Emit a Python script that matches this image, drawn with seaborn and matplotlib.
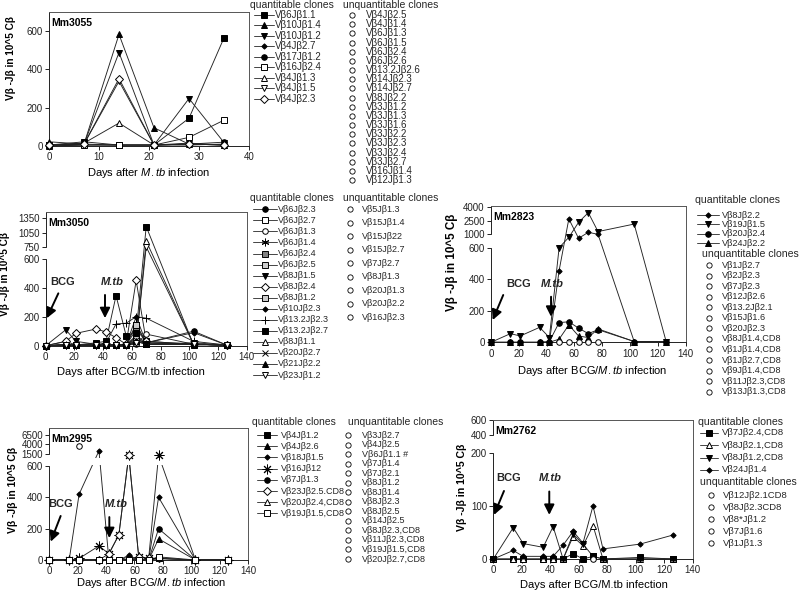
import numpy as np
import matplotlib
matplotlib.use("Agg")
import matplotlib.pyplot as plt
import seaborn as sns

sns.set_theme(style="white")
plt.rcParams["font.family"] = ["Liberation Sans", "DejaVu Sans"]
plt.rcParams["mathtext.fontset"] = "custom"
plt.rcParams["mathtext.rm"] = "Liberation Sans"
plt.rcParams["mathtext.it"] = "Liberation Sans:italic"
plt.rcParams["mathtext.bf"] = "Liberation Sans:bold"
plt.rcParams["axes.unicode_minus"] = False

# ---------------------------------------------------------------- data
# Mm3055
days_3055 = [0, 7, 14, 21, 28, 35]
names_3055 = ["Vβ6Jβ1.1", "Vβ10Jβ1.4", "Vβ10Jβ1.2", "Vβ4Jβ2.7", "Vβ17Jβ1.2",
              "Vβ16Jβ2.4", "Vβ4Jβ1.3", "Vβ4Jβ1.5", "Vβ4Jβ2.3"]
marks_3055 = ["sq", "tri", "trid", "dia", "circ", "sq_o", "tri_o", "trid_o", "dia_o"]
vals_3055 = [
    [5, 22, 5, 5, 145, 565],
    [22, 10, 583, 95, 10, 5],
    [5, 10, 488, 5, 248, 18],
    [5, 10, 5, 5, 5, 10],
    [0, 5, 5, 5, 10, 20],
    [0, 5, 5, 5, 45, 135],
    [5, 15, 120, 5, 15, 5],
    [5, 10, 338, 5, 10, 5],
    [5, 10, 352, 5, 10, 5],
]
unq_3055 = ["Vβ4Jβ2.5", "Vβ4Jβ1.4", "Vβ6Jβ1.3", "Vβ6Jβ1.5", "Vβ6Jβ2.4", "Vβ6Jβ2.6",
            "Vβ13.2Jβ2.6", "Vβ14Jβ2.3", "Vβ14Jβ2.7", "Vβ8Jβ2.2", "Vβ3Jβ1.2", "Vβ3Jβ1.3",
            "Vβ3Jβ1.6", "Vβ3Jβ2.2", "Vβ3Jβ2.3", "Vβ3Jβ2.4", "Vβ3Jβ2.7", "Vβ16Jβ1.4",
            "Vβ12Jβ1.3"]

# Mm3050
days_3050 = [0, 14, 21, 35, 42, 49, 56, 63, 70, 103, 126]
names_3050 = ["Vβ6Jβ2.3", "Vβ6Jβ2.7", "Vβ6Jβ1.3", "Vβ6Jβ1.4", "Vβ6Jβ2.4", "Vβ6Jβ2.5",
              "Vβ8Jβ1.5", "Vβ8Jβ2.4", "Vβ8Jβ1.2", "Vβ10Jβ2.3", "Vβ13.2Jβ2.3",
              "Vβ13.2Jβ2.7", "Vβ8Jβ1.1", "Vβ20Jβ2.7", "Vβ21Jβ2.2", "Vβ23Jβ1.2"]
marks_3050 = ["circ", "sq_o", "circ_o", "ast", "sq_h", "sq_g", "trid", "dia_o", "sq_g",
              "dia", "plus", "sq", "tri_o", "cross", "tri", "trid_o"]
vals_3050 = [
    [0, 30, 5, 5, 5, 5, 5, 70, 20, 100, 5],
    [0, 5, 5, 5, 5, 5, 5, 30, 10, 10, 5],
    [0, 5, 5, 5, 5, 5, 5, 10, 80, 10, 5],
    [0, 5, 5, 5, 5, 5, 5, 150, 20, 10, 5],
    [0, 5, 5, 5, 5, 5, 5, 110, 30, 10, 5],
    [0, 5, 5, 5, 5, 5, 5, 140, 20, 10, 5],
    [0, 110, 30, 10, 10, 5, 5, 50, 10, 20, 5],
    [0, 30, 85, 115, 95, 55, 10, 450, 30, 10, 5],
    [0, 5, 5, 5, 5, 5, 5, 60, 10, 10, 5],
    [0, 5, 5, 5, 5, 5, 5, 200, 20, 90, 5],
    [0, 5, 5, 5, 20, 150, 155, 200, 190, 30, 5],
    [0, 5, 5, 20, 30, 345, 70, 90, 1180, 5, 5],
    [0, 5, 5, 5, 5, 5, 5, 20, 880, 10, 5],
    [0, 5, 5, 5, 5, 5, 5, 40, 10, 10, 5],
    [0, 5, 5, 5, 5, 5, 5, 30, 10, 10, 5],
    [0, 5, 5, 5, 5, 5, 5, 20, 760, 10, 5],
]
unq_3050 = ["Vβ5Jβ1.3", "Vβ15Jβ1.4", "Vβ15Jβ22", "Vβ15Jβ2.7", "Vβ7Jβ2.7", "Vβ8Jβ1.3",
            "Vβ20Jβ1.3", "Vβ20Jβ2.2", "Vβ16Jβ2.3"]

# Mm2823
days_2823 = [0, 14, 21, 35, 42, 49, 56, 63, 70, 77, 103, 126]
names_2823 = ["Vβ8Jβ2.2", "Vβ19Jβ1.5", "Vβ20Jβ2.4", "Vβ24Jβ2.2"]
marks_2823 = ["dia", "trid", "circ", "tri"]
vals_2823 = [
    [0, 0, 0, 0, 0, 455, 2700, 880, 1220, 1000, 5, 5],
    [0, 55, 40, 95, 30, 600, 910, 2320, 3400, 1300, 2130, 5],
    [0, 0, 0, 0, 5, 125, 130, 90, 55, 80, 5, 5],
    [0, 0, 0, 0, 0, 20, 110, 40, 30, 85, 5, 0],
]
unq_days_2823 = [49, 56, 63, 70, 77]
unq_vals_2823 = [0, 0, 0, 0, 0]
unq_2823 = ["Vβ1Jβ2.7", "Vβ2Jβ2.3", "Vβ7Jβ2.3", "Vβ12Jβ2.6", "Vβ13.2Jβ2.1", "Vβ15Jβ1.6",
            "Vβ20Jβ2.3", "Vβ8Jβ1.4,CD8", "Vβ1Jβ1.4,CD8", "Vβ1Jβ2.7,CD8", "Vβ9Jβ1.4,CD8",
            "Vβ11Jβ2.3,CD8", "Vβ13Jβ1.3,CD8"]

# Mm2995
days_2995 = [0, 14, 21, 35, 42, 49, 56, 63, 70, 77, 103, 126]
names_2995 = ["Vβ4Jβ1.2", "Vβ4Jβ2.6", "Vβ18Jβ1.5", "Vβ16Jβ12", "Vβ7Jβ1.3",
              "Vβ23Jβ2.5.CD8", "Vβ20Jβ2.4,CD8", "Vβ19Jβ1.5,CD8"]
marks_2995 = ["sq", "tri", "dia", "star", "circ", "dia_o", "tri_o", "sq_o"]
vals_2995 = [
    [0, 0, 0, 0, 0, 0, 0, 0, 0, 10, 0, 0],
    [0, 0, 0, 0, 0, 0, 5, 0, 0, 135, 0, 0],
    [0, 0, 420, 2300, 0, 0, 30, 0, 0, 400, 0, 0],
    [0, 0, 10, 90, 40, 160, 1400, 20, 10, 1400, 0, 0],
    [0, 0, 0, 0, 0, 0, 20, 0, 0, 200, 0, 0],
    [0, 0, 0, 0, 40, 160, 1400, 20, 10, 10, 0, 0],
    [0, 0, 0, 0, 0, 0, 0, 0, 0, 10, 0, 0],
    [0, 0, 0, 0, 0, 0, 0, 0, 0, 20, 0, 0],
]
unq_days_2995 = [21]
unq_vals_2995 = [3600]
unq_2995 = ["Vβ3Jβ2.7", "Vβ4Jβ2.5", "Vβ6Jβ1.1 #", "Vβ7Jβ1.4", "Vβ7Jβ2.1", "Vβ8Jβ1.2",
            "Vβ8Jβ1.4", "Vβ8Jβ2.3", "Vβ8Jβ2.5", "Vβ14Jβ2.5", "Vβ8Jβ2.3,CD8",
            "Vβ11Jβ2.3,CD8", "Vβ19Jβ1.5,CD8", "Vβ20Jβ2.7,CD8"]

# Mm2762
days_2762 = [0, 14, 21, 35, 42, 49, 56, 63, 70, 77, 103, 126]
names_2762 = ["Vβ7Jβ2.4,CD8", "Vβ8Jβ2.1,CD8", "Vβ8Jβ1.2,CD8", "Vβ24Jβ1.4"]
marks_2762 = ["sq", "tri_o", "trid", "dia"]
vals_2762 = [
    [0, 0, 0, 0, 0, 0, 10, 0, 5, 0, 3, 0],
    [0, 0, 0, 0, 0, 0, 42, 25, 63, 0, 0, 0],
    [0, 59, 29, 22, 61, 0, 47, 28, 5, 0, 0, 0],
    [0, 16, 5, 5, 5, 26, 52, 30, 100, 19, 28, 45],
]
unq_days_2762 = [70]
unq_vals_2762 = [0]
unq_2762 = ["Vβ12Jβ2.1CD8", "Vβ8Jβ2.3CD8", "Vβ8*Jβ1.2", "Vβ7Jβ1.6", "Vβ1Jβ1.3"]

YLABEL = "Vβ -Jβ in 10^5 Cβ"

# ---------------------------------------------------------------- styles
STY = {
    "sq": ("s", "black", 3.8), "sq_o": ("s", "white", 3.8),
    "tri": ("^", "black", 4.4), "tri_o": ("^", "white", 4.4),
    "trid": ("v", "black", 4.4), "trid_o": ("v", "white", 4.4),
    "dia": ("D", "black", 2.7), "dia_o": ("D", "white", 3.7),
    "circ": ("o", "black", 4.0), "circ_o": ("o", "white", 4.0),
    "ast": ((6, 2, 0), "none", 5.5), "plus": ("+", "none", 6.0),
    "cross": ("x", "none", 4.5), "sq_h": ("s", "0.5", 4.2),
    "sq_g": ("s", "0.8", 4.2), "star": ((8, 2, 0), "none", 7.0),
}
INK = "#222222"
FW, FH = 800, 594

fig = plt.figure(figsize=(8.0, 5.94), dpi=100)
fig.patch.set_facecolor("white")


def pax(l, r, t, b):
    return fig.add_axes([l / FW, 1 - b / FH, (r - l) / FW, (b - t) / FH])


def make_scale(anch):
    v = np.array([a for a, _ in anch], float)
    p = np.array([b for _, b in anch], float)
    s0 = (p[1] - p[0]) / (v[1] - v[0])
    s1 = (p[-1] - p[-2]) / (v[-1] - v[-2])
    v2 = np.concatenate([[v[0] - 1e6], v, [v[-1] + 1e6]])
    p2 = np.concatenate([[p[0] - 1e6 * s0], p, [p[-1] + 1e6 * s1]])
    return (lambda y: np.interp(y, v2, p2), lambda q: np.interp(q, p2, v2))


def setup(ax, xlim, xticks, ytop, yticks, anch=None, gap=None):
    ax.set_xlim(*xlim)
    ax.set_xticks(xticks)
    if anch is not None:
        ax.set_yscale("function", functions=make_scale(anch))
    ax.set_ylim(0, ytop)
    ax.set_yticks(yticks)
    ax.set_yticklabels([str(t) for t in yticks])
    ax.minorticks_off()
    ax.tick_params(axis="both", which="major", direction="out", length=3, width=0.7,
                   labelsize=7, pad=1.5, colors=INK, left=True, bottom=True,
                   top=False, right=False)
    ax.grid(False)
    for s in ax.spines.values():
        s.set_linewidth(0.7)
        s.set_color("#555555")
    ax.spines["left"].set_color(INK)
    ax.spines["bottom"].set_color(INK)
    if gap is not None:
        ax.spines["left"].set_visible(False)
        tr = ax.get_yaxis_transform()
        ax.plot([0, 0], [0, gap[0]], transform=tr, color=INK, lw=0.7, clip_on=False)
        ax.plot([0, 0], [gap[1], ytop], transform=tr, color=INK, lw=0.7, clip_on=False)


def draw_series(ax, days, vals, marks):
    for v, st in zip(vals, marks):
        m, fc, ms = STY[st]
        sns.lineplot(x=days, y=v, ax=ax, color=INK, linewidth=0.65, errorbar=None,
                     estimator=None, sort=False, zorder=2, clip_on=False)
        sns.lineplot(x=days, y=v, ax=ax, color=INK, linestyle="none", marker=m,
                     markersize=ms, markerfacecolor=fc, markeredgecolor="black",
                     markeredgewidth=0.7, errorbar=None, estimator=None, sort=False,
                     zorder=4, clip_on=False)


def draw_unq(ax, days, vals):
    sns.lineplot(x=days, y=vals, ax=ax, color=INK, linestyle="none", marker="o",
                 markersize=4.0, markerfacecolor="white", markeredgecolor="black",
                 markeredgewidth=0.7, errorbar=None, estimator=None, sort=False,
                 zorder=4, clip_on=False)


def labels(ax, title, xl, xlc, ylc, yfs):
    ax.text(0.012, 0.955, title, transform=ax.transAxes, fontsize=7.5,
            fontweight="bold", va="top", ha="left", color="black")
    ax.set_xlabel(xl, fontsize=8, color="black")
    ax.xaxis.set_label_coords(*xlc)
    ax.xaxis.label.set_va("center")
    ax.set_ylabel(YLABEL, fontsize=yfs, fontweight="bold", color="black")
    ax.yaxis.set_label_coords(*ylc)
    ax.yaxis.label.set_va("center")


def arrows(ax, bcg_txt, bcg_tail, bcg_head, mtb_txt, mtb_tail, mtb_head):
    ax.text(*bcg_txt, "BCG", fontsize=8, fontweight="bold", ha="center", va="center")
    ax.text(*mtb_txt, "M.tb", fontsize=8, fontweight="bold", style="italic",
            ha="center", va="center")
    for tail, head in [(bcg_tail, bcg_head), (mtb_tail, mtb_head)]:
        ax.annotate("", xy=head, xytext=tail, annotation_clip=False,
                    arrowprops=dict(arrowstyle="-|>,head_length=0.5,head_width=0.25",
                                    lw=1.4, color="black", shrinkA=0, shrinkB=0))


# overlay for legends
ov = fig.add_axes([0, 0, 1, 1], zorder=-5)
ov.set_xlim(0, FW)
ov.set_ylim(FH, 0)
ov.axis("off")


def legend(qhdr, names, marks, qy0, qdy, qline, qtext, uhdr, unames, uy0, udy, ucx, utext,
           fs, hfs):
    ov.text(qhdr[0], qhdr[1], "quantitable clones", fontsize=hfs, va="center", ha="left")
    for i, (n, st) in enumerate(zip(names, marks)):
        y = qy0 + i * qdy
        m, fc, ms = STY[st]
        ov.plot([qline[0], qline[1]], [y, y], color="#444444", lw=0.7)
        ov.plot([(qline[0] + qline[1]) / 2], [y], marker=m, ms=ms, mfc=fc,
                mec="black", mew=0.7, ls="none")
        ov.text(qtext, y, n, fontsize=fs, va="center", ha="left")
    ov.text(uhdr[0], uhdr[1], "unquantitable clones", fontsize=hfs, va="center", ha="left")
    for i, n in enumerate(unames):
        y = uy0 + i * udy
        ov.plot([ucx], [y], marker="o", ms=3.8, mfc="white", mec="black", mew=0.6,
                ls="none")
        ov.text(utext, y, n, fontsize=fs, va="center", ha="left")


# ---------------------------------------------------------------- Mm3055
a1 = pax(49, 249, 12, 146)
draw_series(a1, days_3055, vals_3055, marks_3055)
setup(a1, (0, 40), [0, 10, 20, 30, 40], 700, [0, 200, 400, 600])
labels(a1, "Mm3055", "Days after $\\it{M.tb}$ infection", (0.5, -0.20), (-0.19, 0.66), 7.2)
legend((250, 5), names_3055, marks_3055, 15, 10.46, (254, 274), 275,
       (343, 5), unq_3055, 15, 9.17, 352, 366, 7.0, 7.5)

# ---------------------------------------------------------------- Mm3050
a2 = pax(45.7, 246.7, 211.7, 345.7)
draw_series(a2, days_3050, vals_3050, marks_3050)
setup(a2, (0, 140), list(range(0, 141, 20)), 1490, [0, 200, 400, 600, 750, 1050, 1350],
      anch=[(0, 0), (600, 87), (750, 98.4), (1350, 127.4), (1490, 134)], gap=(600, 750))
labels(a2, "Mm3050", "Days after BCG/M.tb infection", (0.424, -0.20), (-0.2025, 0.535), 7.2)
arrows(a2, (11.7, 441), (8.8, 361), (0.7, 189), (46.3, 441), (41.3, 350), (41.3, 190))
legend((250, 198), names_3050, marks_3050, 209.3, 11.05, (253, 277), 278,
       (343, 198), unq_3050, 209.3, 13.5, 350, 362, 6.5, 7.5)

# ---------------------------------------------------------------- Mm2823
a3 = pax(491, 685.6, 206, 342.3)
draw_series(a3, days_2823, vals_2823, marks_2823)
draw_unq(a3, unq_days_2823, unq_vals_2823)
setup(a3, (0, 140), list(range(0, 141, 20)), 4150, [0, 200, 400, 600, 1000, 2500, 4000],
      anch=[(0, 0), (600, 94.6), (1000, 108), (2500, 121.6), (4000, 135), (4150, 136.3)],
      gap=(600, 1000))
labels(a3, "Mm2823", "Days after BCG/$\\it{M.tb}$ infection", (0.52, -0.208), (-0.202, 0.589), 8.4)
arrows(a3, (20.1, 370), (8.8, 300), (1.2, 141), (43.7, 370), (43.2, 289), (43.2, 162))
legend((695, 200), names_2823, marks_2823, 215, 9.45, (697, 719), 721.7,
       (701.7, 254.3), unq_2823, 265, 10.56, 709.3, 721.7, 6.6, 7.6)

# ---------------------------------------------------------------- Mm2995
a4 = pax(49.3, 248, 428, 560)
a4.axhspan(680, 1200, xmin=0.004, xmax=0.996, color="white", zorder=3, lw=0)
draw_series(a4, days_2995, vals_2995, marks_2995)
draw_unq(a4, unq_days_2995, unq_vals_2995)
setup(a4, (0, 140), list(range(0, 141, 20)), 8300, [0, 200, 400, 600, 1500, 4000, 6500],
      anch=[(0, 0), (600, 94), (1500, 106), (4000, 116), (6500, 125.3), (8300, 132)],
      gap=(600, 1500))
labels(a4, "Mm2995", "Days after BCG/$\\it{M.tb}$ infection", (0.512, -0.174), (-0.181, 0.53), 7.4)
arrows(a4, (8.2, 357), (8.0, 281), (1.0, 117), (47.5, 357), (42.3, 274), (42.3, 140))
legend((251.7, 421.7), names_2995, marks_2995, 435, 11.2, (256.7, 276.7), 280.7,
       (348.3, 421.7), unq_2995, 435, 9.54, 348.3, 361.7, 6.5, 7.5)

# ---------------------------------------------------------------- Mm2762
a5 = pax(493.3, 692.7, 420, 559)
draw_series(a5, days_2762, vals_2762, marks_2762)
draw_unq(a5, unq_days_2762, unq_vals_2762)
setup(a5, (0, 140), list(range(0, 141, 20)), 600, [0, 100, 200, 400, 600],
      anch=[(0, 0), (200, 106.3), (400, 124), (600, 139)], gap=(200, 400))
labels(a5, "Mm2762", "Days after BCG/M.tb infection", (0.505, -0.187), (-0.158, 0.518), 7.6)
arrows(a5, (10.5, 152), (7.5, 128), (0.5, 83), (40.3, 152), (39.3, 127), (39.3, 83))
legend((698.3, 421.7), names_2762, marks_2762, 432.7, 12.4, (700, 718.3), 721.7,
       (700, 482.3), unq_2762, 495, 12.1, 710.7, 723.3, 6.8, 7.6)

fig.savefig("out.png", dpi=100, facecolor="white")
